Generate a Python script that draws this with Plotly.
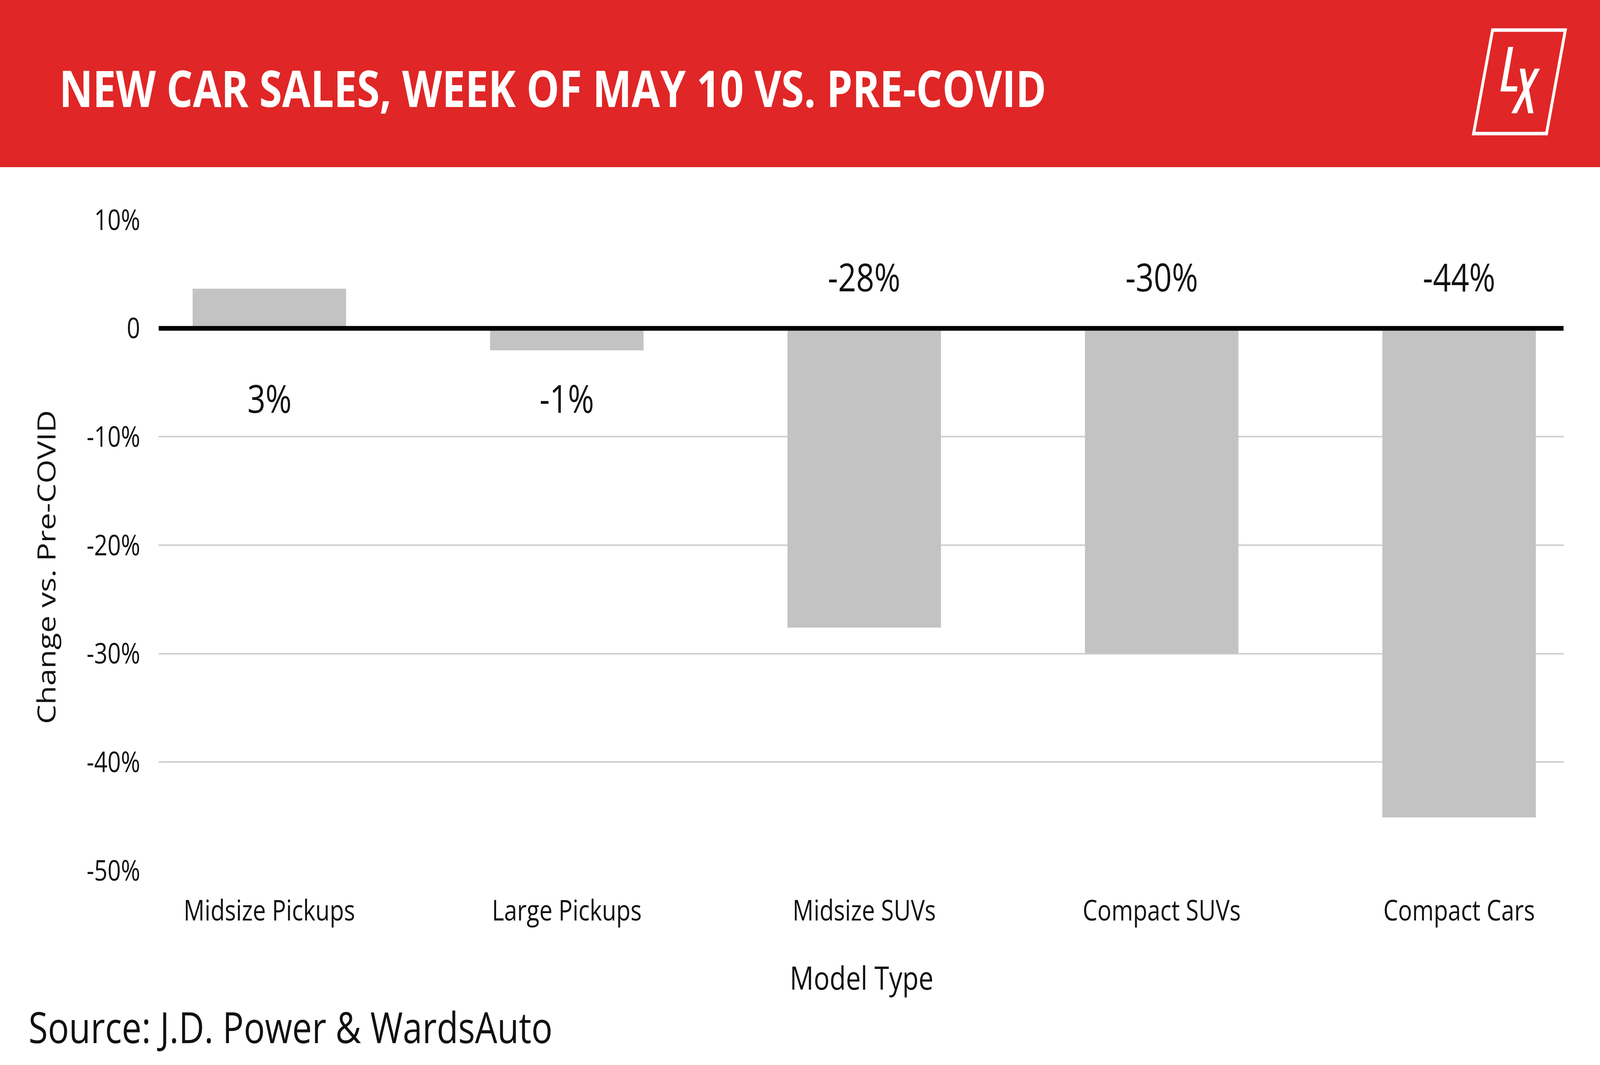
import plotly.graph_objects as go

# values
categories = ["Midsize Pickups", "Large Pickups", "Midsize SUVs", "Compact SUVs", "Compact Cars"]
changes = [0.0365, -0.0203, -0.276, -0.300, -0.451]
bar_labels = ["3%", "-1%", "-28%", "-30%", "-44%"]
y_ticks = [0.1, 0, -0.1, -0.2, -0.3, -0.4, -0.5]
y_tick_text = ["10%", "0", "-10%", "-20%", "-30%", "-40%", "-50%"]

W, H = 5000, 2727
L, R, T, B = 496, 114, 563, 498
pw, ph = W - L - R, H - T - B

RED = "#E02626"
INK = "#111111"
FONT = "Open Sans"


def px(x, y):
    # page pixels -> paper coords
    return (x - L) / pw, (H - B - y) / ph


def path(points):
    pts = [px(x, y) for x, y in points]
    return "M " + " L ".join(f"{a:.5f},{b:.5f}" for a, b in pts) + " Z"


fig = go.Figure()
fig.add_trace(go.Bar(
    x=categories, y=changes, width=0.516,
    marker=dict(color="#C3C3C3", line=dict(width=0)),
    hoverinfo="skip", showlegend=False,
))

# short bars get their label under the zero line, long negative bars above it
annotations = []
for cat, v, txt in zip(categories, changes, bar_labels):
    annotations.append(dict(
        x=cat, y=0.048 if v < -0.1 else -0.064, xref="x", yref="y",
        text=txt, showarrow=False, xanchor="center", yanchor="middle",
        font=dict(family=FONT, size=99, color=INK),
    ))


def page_text(x, y, text, size, color=INK, bold=False, anchor="left", angle=0):
    ax, ay = px(x, y)
    if bold:
        text = f"<b>{text}</b>"
    return dict(x=ax, y=ay, xref="paper", yref="paper", text=text, showarrow=False,
                xanchor=anchor, yanchor="middle", textangle=angle,
                font=dict(family=FONT, size=size, color=color))


annotations += [
    page_text(183, 224, "NEW CAR SALES, WEEK OF MAY 10 VS. PRE-COVID", 129, color="white", bold=True),
    page_text(87, 2628, "Source: J.D. Power &amp; WardsAuto", 110),
    page_text(2692, 2501, "Model Type", 83, anchor="center"),
    page_text(142, 1452, "Change vs. Pre-COVID", 79, anchor="center", angle=-90),
]

shapes = []
# red header band
x0, y0 = px(0, 0)
x1, y1 = px(W, 428)
shapes.append(dict(type="rect", xref="paper", yref="paper", x0=x0, y0=y0, x1=x1, y1=y1,
                   fillcolor=RED, line=dict(width=0), layer="below"))
# LX logo
shapes.append(dict(type="path", xref="paper", yref="paper",
                   path=path([(4664.3, 77), (4891.7, 77), (4832.8, 342), (4605, 342)]),
                   line=dict(color="white", width=9)))
shapes.append(dict(type="path", xref="paper", yref="paper",
                   path=path([(4713.3, 120), (4728.7, 120), (4707.3, 221), (4742.3, 221),
                              (4740, 234.3), (4688.7, 234.3)]),
                   fillcolor="white", line=dict(width=0)))
shapes.append(dict(type="path", xref="paper", yref="paper",
                   path=path([(4749.3, 175.7), (4765.7, 175.7), (4773.3, 212.3), (4795.7, 175.7),
                              (4812.3, 175.7), (4778.3, 229), (4792, 290), (4775.3, 290),
                              (4766, 247), (4740, 290), (4723, 290), (4760.7, 230)]),
                   fillcolor="white", line=dict(width=0)))
# heavy zero line
shapes.append(dict(type="line", xref="paper", yref="y", x0=0, x1=1, y0=0, y1=0,
                   line=dict(color="black", width=12)))

fig.update_layout(
    width=W, height=H,
    margin=dict(l=L, r=R, t=T, b=B, autoexpand=False),
    paper_bgcolor="white", plot_bgcolor="white",
    font=dict(family=FONT, color=INK),
    annotations=annotations,
    shapes=shapes,
    xaxis=dict(
        type="category", range=[-0.372, 4.351], showgrid=False, zeroline=False,
        showline=False, ticks="", ticklabelstandoff=54,
        tickfont=dict(family=FONT, size=73, color=INK),
    ),
    yaxis=dict(
        range=[-0.5, 0.1], tickvals=y_ticks, ticktext=y_tick_text,
        showgrid=True, gridcolor="#D0D0D0", gridwidth=4, zeroline=False,
        showline=False, ticks="", ticklabelstandoff=57,
        tickfont=dict(family=FONT, size=73, color=INK),
    ),
)

# the browser may be narrower than the figure; fit the 5000x2727 page into it
fit = """
document.documentElement.style.overflow = 'hidden';
document.body.style.margin = '0';
document.body.style.overflow = 'hidden';
var gd = document.getElementById('{plot_id}');
var sx = window.innerWidth / %d, sy = window.innerHeight / %d;
gd.style.transformOrigin = '0 0';
gd.style.transform = 'scale(' + sx + ',' + sy + ')';
""" % (W, H)

fig.write_html("out.html", post_script=fit, config={"displayModeBar": False})
